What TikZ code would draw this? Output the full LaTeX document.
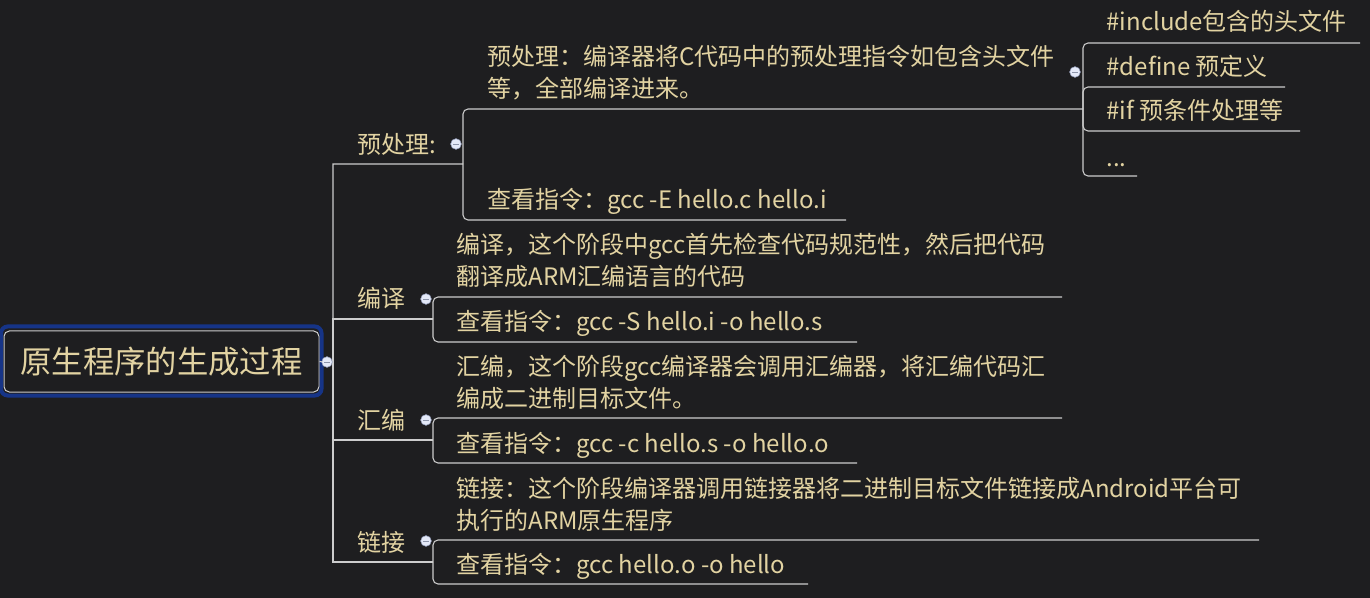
\documentclass[tikz,border=0pt]{standalone}
\usepackage{fontspec}
\setmainfont{Noto Sans CJK SC}
\definecolor{bgdark}{RGB}{30,30,32}
\definecolor{txtan}{RGB}{226,211,162}
\definecolor{lnwhite}{RGB}{205,205,205}
\definecolor{rootblue}{RGB}{22,52,135}
\definecolor{knobfill}{RGB}{228,233,248}
\definecolor{knobedge}{RGB}{150,160,190}
\definecolor{knobdash}{RGB}{140,148,170}
\tikzset{every picture/.style={line width=0.75pt}}

\begin{document}
\begin{tikzpicture}[x=0.75pt,y=0.75pt,yscale=-1,xscale=1,
  lbl/.style={anchor=base west,inner sep=0pt,text=txtan,align=left,font=\fontsize{18}{24}\selectfont},
  rootbox/.style={draw=lnwhite,rounded corners=4pt,text=txtan,inner sep=0pt,minimum width=236.25pt,minimum height=45.75pt,font=\fontsize{23.5}{28}\selectfont},
  conn/.style={draw=lnwhite,line width=0.8pt,rounded corners=3.75pt},
  trunkline/.style={draw=lnwhite,line width=0.8pt},
  knob/.style={circle,draw=knobedge,fill=knobfill,line width=0.4pt,minimum size=8pt,inner sep=0pt,
    path picture={\draw[knobdash,line width=0.7pt] ([xshift=-1.9pt]path picture bounding box.center) -- ([xshift=1.9pt]path picture bounding box.center);}}]
\useasboundingbox (0,0) rectangle (1370,598);
\fill[bgdark] (0,0) rectangle (1370,598);

%Shape: Root [id:root]
\node[rootbox] (root) at (161.5,361.5) {原生程序的生成过程};
\draw[rootblue,line width=3pt,rounded corners=5pt] ([shift={(-2.5,-4)}]root.north west) rectangle ([shift={(2,3)}]root.south east);

% Junction points
\coordinate (trunk) at (333,362);
\coordinate (pre-j) at (463,164);
\coordinate (comp-j) at (433,319);
\coordinate (asm-j) at (433,440);
\coordinate (link-j) at (433,562);
\coordinate (pre-a-j) at (1083,109);
% Underline ends
\coordinate (pre-b-e) at (846,220);
\coordinate (pre-a1-e) at (1360,43);
\coordinate (pre-a2-e) at (1285,87);
\coordinate (pre-a3-e) at (1300,131);
\coordinate (pre-a4-e) at (1137,176);
\coordinate (comp-a-e) at (1062,297);
\coordinate (comp-b-e) at (857,342);
\coordinate (asm-a-e) at (1062,418);
\coordinate (asm-b-e) at (857,463);
\coordinate (link-a-e) at (1259,540);
\coordinate (link-b-e) at (808,584);

%Straight Lines [id:trunk]
\draw[trunkline] (root.east) -- (trunk) |- (pre-j);
\draw[trunkline] (trunk) |- (comp-j);
\draw[trunkline] (trunk) |- (asm-j);
\draw[trunkline] (trunk) |- (link-j);
%Straight Lines [id:pre]
\draw[conn] (pre-j) |- (pre-a-j);
\draw[conn] (pre-j) |- (pre-b-e);
\draw[conn] (pre-a-j) |- (pre-a1-e);
\draw[conn] (pre-a-j) |- (pre-a2-e);
\draw[conn] (pre-a-j) |- (pre-a3-e);
\draw[conn] (pre-a-j) |- (pre-a4-e);
%Straight Lines [id:comp]
\draw[conn] (comp-j) |- (comp-a-e);
\draw[conn] (comp-j) |- (comp-b-e);
%Straight Lines [id:asm]
\draw[conn] (asm-j) |- (asm-a-e);
\draw[conn] (asm-j) |- (asm-b-e);
%Straight Lines [id:link]
\draw[conn] (link-j) |- (link-a-e);
\draw[conn] (link-j) |- (link-b-e);

% Text Node
\node[lbl] (pre) at (357,154) {预处理:};
% Text Node
\node[lbl] (pre-a) at (487,98) {预处理：编译器将C代码中的预处理指令如包含头文件\\等，全部编译进来。};
% Text Node
\node[lbl] (pre-b) at (487,209) {查看指令：gcc -E hello.c hello.i};
% Text Node
\node[lbl] (pre-a1) at (1106,31) {\#include包含的头文件};
% Text Node
\node[lbl] (pre-a2) at (1106,76) {\#define 预定义};
% Text Node
\node[lbl] (pre-a3) at (1106,120) {\#if 预条件处理等};
% Text Node
\node[lbl] (pre-a4) at (1106,167) {...};
% Text Node
\node[lbl] (comp) at (357,308) {编译};
% Text Node
\node[lbl] (comp-a) at (456,286) {编译，这个阶段中gcc首先检查代码规范性，然后把代码\\翻译成ARM汇编语言的代码};
% Text Node
\node[lbl] (comp-b) at (456,331) {查看指令：gcc -S hello.i -o hello.s};
% Text Node
\node[lbl] (asm) at (357,429) {汇编};
% Text Node
\node[lbl] (asm-a) at (456,407) {汇编，这个阶段gcc编译器会调用汇编器，将汇编代码汇\\编成二进制目标文件。};
% Text Node
\node[lbl] (asm-b) at (456,452) {查看指令：gcc -c hello.s -o hello.o};
% Text Node
\node[lbl] (link) at (357,551) {链接};
% Text Node
\node[lbl] (link-a) at (456,529) {链接：这个阶段编译器调用链接器将二进制目标文件链接成Android平台可\\执行的ARM原生程序};
% Text Node
\node[lbl] (link-b) at (456,573) {查看指令：gcc hello.o -o hello};

%Shape: Knobs
\node[knob] (root-k) at (327,362) {};
\node[knob] (pre-k) at (456,144) {};
\node[knob] (pre-a-k) at (1075,72) {};
\node[knob] (comp-k) at (426,299) {};
\node[knob] (asm-k) at (426,420) {};
\node[knob] (link-k) at (426,541) {};

\end{tikzpicture}
\end{document}
